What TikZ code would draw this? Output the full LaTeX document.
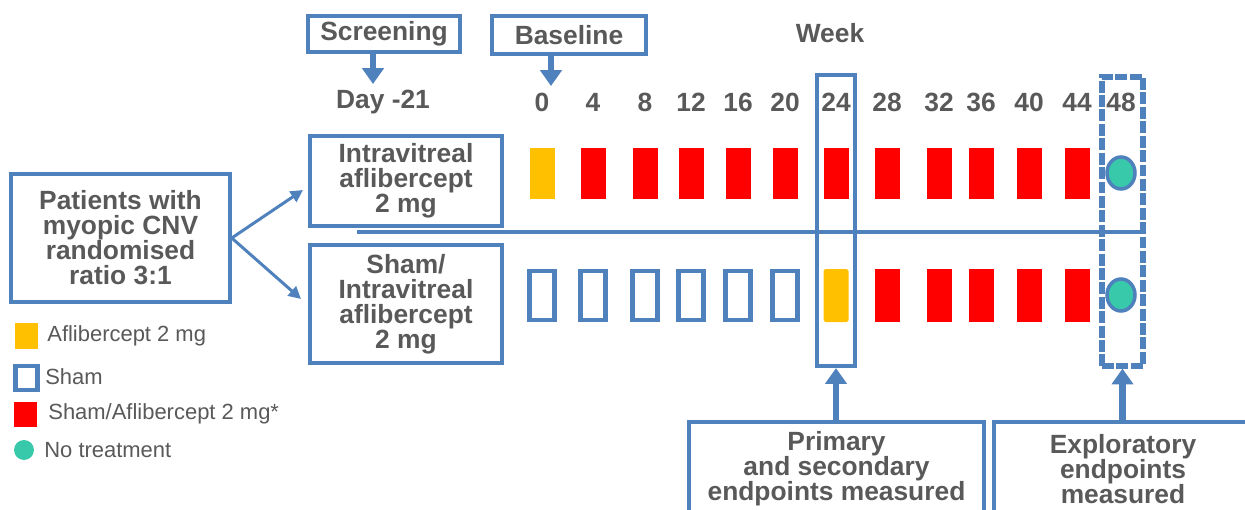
\documentclass[tikz,border=0pt]{standalone}
\usepackage{fontspec}
\setmainfont{Liberation Sans}
\usetikzlibrary{arrows.meta}

\definecolor{boxblue}{RGB}{79,129,189}
\definecolor{txtgray}{RGB}{89,89,89}
\definecolor{dosered}{RGB}{255,0,0}
\definecolor{doseorange}{RGB}{255,192,0}
\definecolor{noteal}{RGB}{56,201,171}

\tikzset{
	blbox/.style={draw=boxblue, line width=2pt, text=txtgray, align=center, inner sep=0pt,
		font=\bfseries\fontsize{15}{14.2}\selectfont},
	lbl/.style={text=txtgray, inner sep=0pt, font=\bfseries\fontsize{15}{14.2}\selectfont},
	legtxt/.style={text=txtgray, anchor=west, inner sep=0pt, font=\fontsize{12.5}{14}\selectfont},
	bigarrow/.style={boxblue, line width=3.5pt, -{Triangle[width=12pt,length=9pt]}},
	thinarrow/.style={boxblue, line width=1.7pt, -{Triangle[width=7pt,length=7pt]}},
	shambar/.style={draw=boxblue, line width=2.8pt},
}

\begin{document}
\begin{tikzpicture}[x=0.02cm, y=-0.02cm]
		\useasboundingbox (0,0) rectangle (1245,510);
		\clip (0,0) rectangle (1245,510);
		
		% top labels
		\node[blbox, minimum width=3.04cm, minimum height=0.72cm] (screen) at (384,34) {Screening};
		\node[blbox, minimum width=3.08cm, minimum height=0.76cm] (base) at (569,35) {Baseline};
		\node[lbl] (week) at (830,33) {Week};
		\node[lbl] (day) at (383,102) {Day -21};
		\coordinate (scrtip) at (373,84);
		\coordinate (bastip) at (551,86);
		\draw[bigarrow] (screen.south -| scrtip) -- (scrtip);
		\draw[bigarrow] (base.south -| bastip) -- (bastip);
		
		\foreach \w/\x in {0/542,4/593,8/645,12/691,16/738,20/785,24/836,28/887,32/939,36/981,40/1029,44/1077,48/1121}
			\node[lbl] (wk\w) at (\x,102) {\w};
		
		% arms
		\node[blbox, minimum width=4.38cm, minimum height=2.56cm] (patients) at (120.5,238)
			{Patients with\\myopic CNV\\randomised\\ratio 3:1};
		\node[blbox, minimum width=3.84cm, minimum height=1.8cm] (intra) at (406,181)
			{Intravitreal\\aflibercept\\2 mg};
		\node[blbox, minimum width=3.84cm, minimum height=2.36cm] (sham) at (406,304)
			{Sham/\\Intravitreal\\aflibercept\\2 mg};
		\coordinate (toint) at (303,190);
		\coordinate (tosham) at (301,299);
		\draw[thinarrow] (patients.east) -- (toint);
		\draw[thinarrow] (patients.east) -- (tosham);
		
		\coordinate (sepl) at (357,232);
		\coordinate (sepr) at (1143,232);
		\draw[boxblue, line width=2.2pt] (sepl) -- (sepr);
		
		% row 1
		\fill[doseorange] (529.5,148) rectangle (554.5,199);
		\foreach \x in {593,645,691,738,785,836,887,939,981,1029,1077}
			\fill[dosered] (\x-12.5,148) rectangle (\x+12.5,199);
		\filldraw[fill=noteal, draw=boxblue, line width=2pt] (1121,173) ellipse [x radius=0.28cm, y radius=0.32cm];
		
		% row 2
		\foreach \x in {542,593,645,691,738,785}
			\draw[shambar] (\x-12.5,271) rectangle (\x+12.5,320);
		\fill[doseorange, rounded corners=1pt] (823.5,269) rectangle (848.5,322);
		\foreach \x in {887,939,981,1029,1077}
			\fill[dosered] (\x-12.5,269) rectangle (\x+12.5,322);
		\filldraw[fill=noteal, draw=boxblue, line width=2pt] (1121,295) ellipse [x radius=0.28cm, y radius=0.32cm];
		
		% endpoint frames
		\node[draw=boxblue, line width=2.4pt, minimum width=0.76cm, minimum height=5.82cm, inner sep=0pt] (wk24box) at (836,220.5) {};
		\node[draw=boxblue, line width=3pt, dash pattern=on 6.8pt off 1.4pt, minimum width=0.82cm, minimum height=5.78cm, inner sep=0pt] (wk48box) at (1122.5,221.5) {};
		
		\node[blbox, minimum width=5.9cm, minimum height=1.88cm] (primbox) at (836.5,469)
			{Primary\\and secondary\\endpoints measured};
		\node[blbox, minimum width=5.16cm, minimum height=1.88cm] (expbox) at (1123,469)
			{Exploratory\\endpoints\\measured};
		\draw[bigarrow] (primbox.north -| wk24box.south) -- (wk24box.south);
		\draw[bigarrow] (expbox.north -| wk48box.south) -- (wk48box.south);
		
		% legend
		\fill[doseorange] (15,323) rectangle (38,349);
		\draw[shambar] (15.5,366) rectangle (37.5,390);
		\fill[dosered] (14,402) rectangle (37,427);
		\fill[noteal] (24,450) circle [radius=0.2cm];
		\node[legtxt] (legaf) at (47,336) {Aflibercept 2 mg};
		\node[legtxt] (legsh) at (45,377) {Sham};
		\node[legtxt] (legsa) at (48,414) {Sham/Aflibercept 2 mg*};
		\node[legtxt] (legno) at (44,450) {No treatment};
	\end{tikzpicture}
\end{document}
